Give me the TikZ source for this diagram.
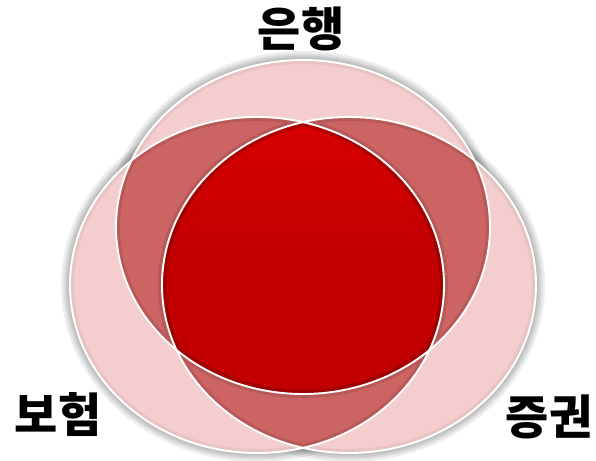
\documentclass[tikz,border=0pt]{standalone}
\usepackage{fontspec}
\newfontfamily\kr{Noto Sans CJK KR}
\definecolor{pinkL}{RGB}{244,206,206}
\definecolor{pinkM}{RGB}{205,100,100}
\definecolor{redD}{RGB}{194,0,0}
\definecolor{redT}{RGB}{218,0,0}
\tikzset{
  lbl/.style={font=\kr\bfseries\fontsize{47}{47}\selectfont, inner sep=0pt, text=black},
  rim/.style={white, line width=1.9pt},
}
\begin{document}
\begin{tikzpicture}[x=1pt,y=-1pt]
\useasboundingbox (0,0) rectangle (596,460);
\coordinate (cA) at (303,227);
\coordinate (cB) at (257,285);
\coordinate (cC) at (349,285);
\def\pA{(cA) ellipse [x radius=187pt, y radius=167pt]}
\def\pB{(cB) ellipse [x radius=187pt, y radius=168pt]}
\def\pC{(cC) ellipse [x radius=187pt, y radius=168pt]}
% soft shadow
\foreach \w in {18,13,9,5}{
  \draw[black, opacity=0.07, line width=\w pt] \pA;
  \draw[black, opacity=0.07, line width=\w pt] \pB;
  \draw[black, opacity=0.07, line width=\w pt] \pC;
}
% single regions
\fill[pinkL] \pA; \fill[pinkL] \pB; \fill[pinkL] \pC;
\begin{scope}
  \clip \pA; \draw[black, opacity=0.05, line width=8pt] \pA;
\end{scope}
\begin{scope}
  \clip \pB; \draw[black, opacity=0.05, line width=8pt] \pB;
\end{scope}
\begin{scope}
  \clip \pC; \draw[black, opacity=0.05, line width=8pt] \pC;
\end{scope}
% pair regions
\begin{scope}
  \clip \pA; \fill[pinkM] \pB;
  \clip \pB; \draw[black, opacity=0.10, line width=8pt] \pA \pB \pC;
\end{scope}
\begin{scope}
  \clip \pA; \fill[pinkM] \pC;
  \clip \pC; \draw[black, opacity=0.10, line width=8pt] \pA \pB \pC;
\end{scope}
\begin{scope}
  \clip \pB; \fill[pinkM] \pC;
  \clip \pC; \draw[black, opacity=0.10, line width=8pt] \pA \pB \pC;
\end{scope}
% triple region
\begin{scope}
  \clip \pA; \clip \pB; \clip \pC;
  \fill[redD] (0,0) rectangle (596,460);
  \shade[top color=redT, bottom color=redD] (100,110) rectangle (500,250);
  \draw[black, opacity=0.18, line width=9pt] \pA \pB \pC;
\end{scope}
% white rims
\draw[rim] \pA; \draw[rim] \pB; \draw[rim] \pC;
% labels
\node[lbl] (bank) at (301,29) {은행};
\node[lbl] (ins) at (58,415) {보험};
\node[lbl] (sec) at (549,417) {증권};
\end{tikzpicture}
\end{document}
